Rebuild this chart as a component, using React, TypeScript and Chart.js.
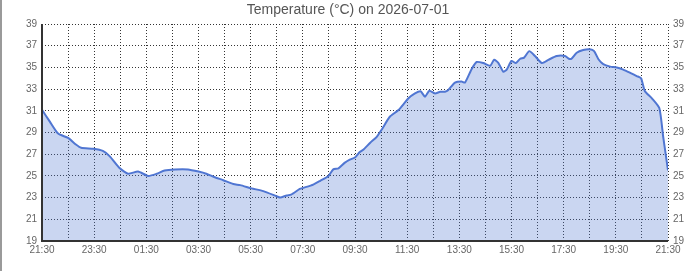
import React, { useEffect, useRef } from "react";
import { Chart, registerables } from "chart.js";

Chart.register(...registerables);

const chartTitle = "Temperature (°C) on 2026-07-01";

// minutes after 21:30
const minutesFromStart = [
  0, 18, 37, 60, 78, 90, 118, 140, 156, 179, 198, 221, 244, 264, 282, 306, 336, 360, 378, 396,
  417, 440, 456, 482, 509, 541, 548, 563, 573, 593, 601, 624, 640, 659, 670, 682, 696, 708, 720,
  731, 739, 755, 770, 782, 800, 820, 843, 858, 871, 881, 891, 904, 916, 927, 934, 950, 965, 973,
  989, 1000, 1015, 1031, 1040, 1050, 1061, 1069, 1080, 1090, 1100, 1109, 1121, 1134, 1150, 1165,
  1184, 1203, 1212, 1218, 1230, 1245, 1260, 1270, 1280, 1291, 1307, 1322, 1337, 1353, 1368, 1378,
  1387, 1403, 1420, 1429, 1440,
];

const temperatures = [
  31.1, 30.0, 28.9, 28.5, 27.9, 27.6, 27.5, 27.3, 26.8, 25.7, 25.2, 25.4, 25.0, 25.2, 25.5, 25.6,
  25.6, 25.4, 25.2, 24.9, 24.6, 24.25, 24.15, 23.85, 23.6, 23.1, 23.0, 23.2, 23.27, 23.8, 23.9,
  24.2, 24.55, 25.0, 25.6, 25.7, 26.2, 26.5, 26.7, 27.2, 27.4, 28.06, 28.6, 29.3, 30.45, 31.07,
  32.15, 32.6, 32.8, 32.3, 32.85, 32.6, 32.76, 32.76, 32.9, 33.6, 33.7, 33.6, 34.9, 35.5, 35.4,
  35.15, 35.7, 35.4, 34.6, 34.8, 35.6, 35.4, 35.8, 35.9, 36.5, 36.05, 35.4, 35.7, 36.05, 36.05,
  35.8, 35.8, 36.35, 36.6, 36.67, 36.5, 35.75, 35.3, 35.07, 35.0, 34.8, 34.5, 34.2, 34.0, 32.8,
  32.15, 31.25, 28.6, 25.5,
];

const xTickLabels = [
  "21:30", "23:30", "01:30", "03:30", "05:30", "07:30", "09:30",
  "11:30", "13:30", "15:30", "17:30", "19:30", "21:30",
];

const yMin = 19;
const yMax = 39;
const yStep = 2;

export default function App() {
  const canvasRef = useRef<HTMLCanvasElement | null>(null);

  useEffect(() => {
    const canvas = canvasRef.current;
    if (!canvas) return;
    const gridColor = "rgba(30,30,30,0.9)";
    const tickFont = { family: "'Liberation Sans', Arial, sans-serif", size: 10 };
    const chart = new Chart(canvas, {
      type: "line",
      data: {
        datasets: [
          {
            data: minutesFromStart.map((m, i) => ({ x: m, y: temperatures[i] })),
            borderColor: "rgb(80,118,210)",
            backgroundColor: "rgba(80,118,210,0.3)",
            borderWidth: 2,
            fill: "start",
            pointRadius: 0,
            tension: 0.2,
          },
        ],
      },
      options: {
        animation: false,
        responsive: false,
        maintainAspectRatio: false,
        layout: { padding: 0 },
        plugins: {
          legend: { display: false },
          tooltip: { enabled: false },
          title: {
            display: true,
            text: chartTitle,
            color: "#555",
            font: { family: "'Liberation Sans', Arial, sans-serif", size: 14, weight: "normal" },
            padding: { top: 2, bottom: 5.2 },
          },
        },
        scales: {
          x: {
            type: "linear",
            min: 0,
            max: 1440,
            afterFit: (s: any) => {
              s.height = 30;
            },
            ticks: {
              stepSize: 60,
              autoSkip: false,
              maxRotation: 0,
              padding: 3,
              color: "#666",
              font: tickFont,
              callback: (v: any) => {
                const n = Number(v);
                return n % 120 === 0 ? xTickLabels[n / 120] : "";
              },
            },
            grid: {
              color: gridColor,
              lineWidth: 1,
              drawTicks: false,
            },
            border: { display: false, dash: [1, 2] },
          },
          y: {
            position: "left",
            min: yMin,
            max: yMax,
            afterFit: (s: any) => {
              s.width = 42;
            },
            ticks: { stepSize: yStep, padding: 5, color: "#666", font: tickFont },
            grid: { color: gridColor, lineWidth: 1, drawTicks: false },
            border: { display: false, dash: [1, 2] },
          },
          y2: {
            position: "right",
            min: yMin,
            max: yMax,
            afterFit: (s: any) => {
              s.width = 28;
            },
            ticks: { stepSize: yStep, padding: 5, color: "#666", font: tickFont },
            grid: { display: false, drawTicks: false },
            border: { display: false },
          },
        },
      },
      plugins: [
        {
          id: "axisLines",
          afterDatasetsDraw: (c: any) => {
            const { ctx, chartArea } = c;
            ctx.save();
            ctx.strokeStyle = "#333";
            ctx.lineWidth = 2;
            ctx.beginPath();
            ctx.moveTo(chartArea.left, chartArea.top);
            ctx.lineTo(chartArea.left, chartArea.bottom);
            ctx.lineTo(chartArea.right, chartArea.bottom);
            ctx.stroke();
            ctx.restore();
          },
        },
      ],
    } as any);
    return () => chart.destroy();
  }, []);

  return (
    <div style={{ position: "absolute", left: 0, top: 0, width: 696, height: 271, background: "#fff" }}>
      <canvas ref={canvasRef} width={696} height={271} style={{ display: "block" }} />
      <div style={{ position: "absolute", left: 0, top: 0, width: 2, height: 271, background: "#9a9a9a" }} />
    </div>
  );
}
